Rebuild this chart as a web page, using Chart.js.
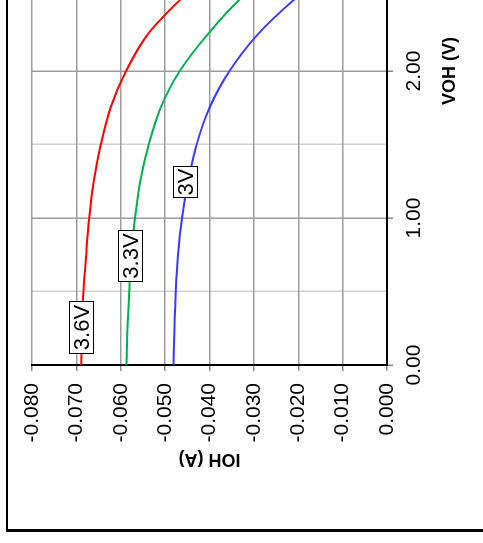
<!DOCTYPE html>
<html><head><meta charset="utf-8">
<script src="https://cdn.jsdelivr.net/npm/chart.js@4/dist/chart.umd.min.js"></script>
<style>
html,body{margin:0;padding:0;background:#fff;width:483px;height:543px;overflow:hidden;position:relative;}
#rot{position:absolute;left:0;top:0;width:776px;height:483px;transform-origin:0 0;transform:translate(0px,543px) rotate(-90deg);}
#frame{position:absolute;left:11px;top:6px;width:2000px;height:2000px;border-top:2px solid #000;border-left:3px solid #000;}
canvas{position:absolute;left:0;top:0;}
</style></head><body>
<div id="rot"><div id="frame"></div><canvas id="c" width="776" height="483"></canvas></div>
<script>
// ---- data (VOH in volts, IOH in amps) ----
const xTitle = 'VOH (V)';
const yTitle = 'IOH (A)';
const seriesNames = ['3.6V', '3.3V', '3V'];

const vohRed   = [0, 0.25, 0.5, 0.75, 1.0, 1.25, 1.5, 1.75, 2.0, 2.25, 2.5, 2.75, 3.0, 3.25, 3.5, 3.6];
const iohRed   = [-0.0689, -0.0687, -0.0684, -0.0678, -0.0671, -0.0661, -0.0645, -0.0623, -0.0588, -0.0539, -0.0461, -0.0370, -0.0270, -0.0160, -0.0045, 0];

const vohGreen = [0, 0.25, 0.5, 0.75, 1.0, 1.25, 1.5, 1.75, 2.0, 2.25, 2.5, 2.75, 3.0, 3.3];
const iohGreen = [-0.0587, -0.0585, -0.0581, -0.0576, -0.0568, -0.0556, -0.0537, -0.0510, -0.0467, -0.0404, -0.0328, -0.0235, -0.0130, 0];

const vohBlue  = [0, 0.25, 0.5, 0.75, 1.0, 1.25, 1.5, 1.75, 2.0, 2.25, 2.5, 2.75, 3.0];
const iohBlue  = [-0.0481, -0.0479, -0.0476, -0.0471, -0.0462, -0.0448, -0.0429, -0.0400, -0.0355, -0.0291, -0.0204, -0.0100, 0];

// curve label anchors (data coordinates)
const labelVoh = [0.252, 0.735, 1.241];
const labelIoh = [-0.0690, -0.0580, -0.0455];

// ---- styling ----
const FONT = '"Liberation Sans Narrow", "Arial Narrow", "Liberation Sans", Arial, sans-serif';
const TFONT = '"Liberation Sans", Arial, Helvetica, sans-serif';
const colors = ['#ff0000', '#00b050', '#3a3aff'];
const labelBoxW = [52, 51, 31];
const labelBoxH = 24;

function pts(v, i) { return v.map((x, k) => ({x: x, y: i[k]})); }
const vohs = [vohRed, vohGreen, vohBlue];
const iohs = [iohRed, iohGreen, iohBlue];

const labelPlugin = {
  id: 'curveLabels',
  afterDatasetsDraw(chart) {
    const {ctx, scales: {x, y}} = chart;
    ctx.save();
    ctx.font = '22px ' + FONT;
    seriesNames.forEach((t, k) => {
      const px = x.getPixelForValue(labelVoh[k]);
      const py = y.getPixelForValue(labelIoh[k]);
      const w = labelBoxW[k], h = labelBoxH;
      const l = Math.round(px - w / 2), tp = Math.round(py - h / 2);
      ctx.fillStyle = '#fff';
      ctx.fillRect(l, tp, w, h);
      ctx.strokeStyle = '#000';
      ctx.lineWidth = 1;
      ctx.strokeRect(l + 0.5, tp + 0.5, w, h);
      ctx.fillStyle = '#000';
      ctx.textAlign = 'center';
      ctx.textBaseline = 'middle';
      ctx.fillText(t, l + w / 2 + 0.5, tp + h / 2 + 1.5);
    });
    ctx.restore();
  }
};

const isMajor = v => Math.abs(v - Math.round(v)) < 1e-9;

new Chart(document.getElementById('c'), {
  type: 'scatter',
  data: {
    datasets: seriesNames.map((n, k) => ({
      label: n,
      data: pts(vohs[k], iohs[k]),
      borderColor: colors[k],
      backgroundColor: colors[k],
      showLine: true,
      pointRadius: 0,
      borderWidth: 2,
      cubicInterpolationMode: 'monotone',
      fill: false
    }))
  },
  options: {
    responsive: false,
    animation: false,
    devicePixelRatio: 1,
    layout: {padding: {left: 0, right: 10, top: 32, bottom: 0}},
    plugins: {legend: {display: false}, tooltip: {enabled: false}},
    scales: {
      x: {
        type: 'linear', position: 'bottom', min: 0, max: 4,
        afterFit: s => { s.height = 96; s.paddingRight = 0; },
        ticks: {
          stepSize: 0.5, autoSkip: false, maxRotation: 0, minRotation: 0, padding: 9,
          color: '#000', font: {family: FONT, size: 21},
          callback: v => (isMajor(v) && v < 4) ? Number(v).toFixed(2) : ''
        },
        grid: {
          color: c => (c.tick && isMajor(c.tick.value)) ? '#9c9c9c' : '#d2d2d2',
          lineWidth: 1.5,
          tickLength: 6,
          tickColor: c => (c.tick && isMajor(c.tick.value)) ? '#888' : 'rgba(0,0,0,0)'
        },
        border: {display: true, color: '#000', width: 2},
        title: {display: true, text: xTitle, color: '#000',
                font: {family: TFONT, size: 18, weight: 'bold'}, padding: {top: 0, bottom: 22}}
      },
      y: {
        type: 'linear', position: 'left', min: -0.08, max: 0, reverse: true,
        afterFit: s => { s.width = 178; },
        ticks: {
          stepSize: 0.01, autoSkip: false, padding: 12,
          color: '#000', font: {family: FONT, size: 21},
          callback: v => Number(v).toFixed(3)
        },
        grid: {color: '#9c9c9c', lineWidth: 1.5, tickLength: 6, tickColor: '#888'},
        border: {display: true, color: '#000', width: 2},
        title: {display: true, text: yTitle, color: '#000',
                font: {family: TFONT, size: 18, weight: 'bold'}, padding: {top: 73, bottom: 0}}
      }
    }
  },
  plugins: [labelPlugin]
});
</script>
</body></html>
